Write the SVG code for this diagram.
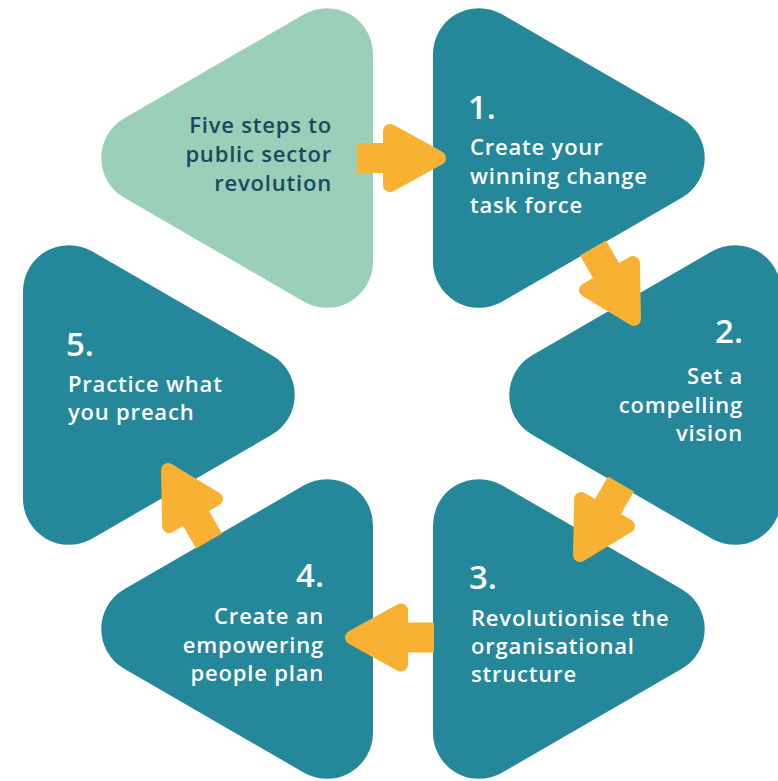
<svg xmlns="http://www.w3.org/2000/svg" xmlns:xlink="http://www.w3.org/1999/xlink" width="778" height="781" viewBox="0 0 778 781">
<defs>
<style>
.teal{fill:#24879a}
.green{fill:#9bcfb9}
.arr{fill:#f8b133}
.t{font-family:"Open Sans","Noto Sans","Liberation Sans",sans-serif;font-weight:600;font-size:22px;letter-spacing:0.8px;fill:#ffffff}
.num{font-size:33px;letter-spacing:0}
.dark{fill:#194a5c}
.r{text-anchor:end}
</style>
<path id="tri" d="M0,-103.8 A46,46 0 0 1 69,-143.7 L248.8,-39.8 A46,46 0 0 1 248.8,39.8 L69,143.7 A46,46 0 0 1 0,103.8 Z"/>
<g id="arrow">
<rect x="0" y="-15" width="34" height="30"/>
<polygon points="33,-27 82,0 33,27" stroke="#f8b133" stroke-width="14" stroke-linejoin="round"/>
</g>
</defs>
<rect width="778" height="781" fill="#ffffff"/>
<g id="intro">
<use href="#tri" class="green" transform="translate(373,158) scale(-1,1)"/>
<text class="t dark r"><tspan x="332" y="133">Five steps to</tspan><tspan x="332" y="162">public sector</tspan><tspan x="332" y="191">revolution</tspan></text>
</g>
<g id="step1">
<use href="#tri" class="teal" transform="translate(433,158)"/>
<text class="t num" x="468" y="119">1.</text>
<text class="t"><tspan x="470" y="155">Create your</tspan><tspan x="470" y="184">winning change</tspan><tspan x="470" y="213">task force</tspan></text>
</g>
<g id="step2">
<use href="#tri" class="teal" transform="translate(781,395) scale(-1,1)"/>
<text class="t num r" x="743" y="343">2.</text>
<text class="t r"><tspan x="743" y="384">Set a</tspan><tspan x="743" y="413">compelling</tspan><tspan x="743" y="441">vision</tspan></text>
</g>
<g id="step5">
<use href="#tri" class="teal" transform="translate(23,395)"/>
<text class="t num" x="66" y="356">5.</text>
<text class="t"><tspan x="68" y="392">Practice what</tspan><tspan x="68" y="420">you preach</tspan></text>
</g>
<g id="step4">
<use href="#tri" class="teal" transform="translate(373,629) scale(-1,1)"/>
<text class="t num r" x="324" y="587">4.</text>
<text class="t r"><tspan x="324" y="624">Create an</tspan><tspan x="324" y="653">empowering</tspan><tspan x="324" y="681">people plan</tspan></text>
</g>
<g id="step3">
<use href="#tri" class="teal" transform="translate(433,629)"/>
<text class="t num" x="469" y="589">3.</text>
<text class="t"><tspan x="471" y="626">Revolutionise the</tspan><tspan x="471" y="654">organisational</tspan><tspan x="471" y="682">structure</tspan></text>
</g>
<g id="connectors" class="arr">
<use href="#arrow" transform="translate(357,158)"/>
<use href="#arrow" transform="translate(593,248) rotate(60)"/>
<use href="#arrow" transform="translate(621,484) rotate(120)"/>
<use href="#arrow" transform="translate(434,637.5) rotate(180)"/>
<use href="#arrow" transform="translate(209,541) rotate(240)"/>
</g>
</svg>
